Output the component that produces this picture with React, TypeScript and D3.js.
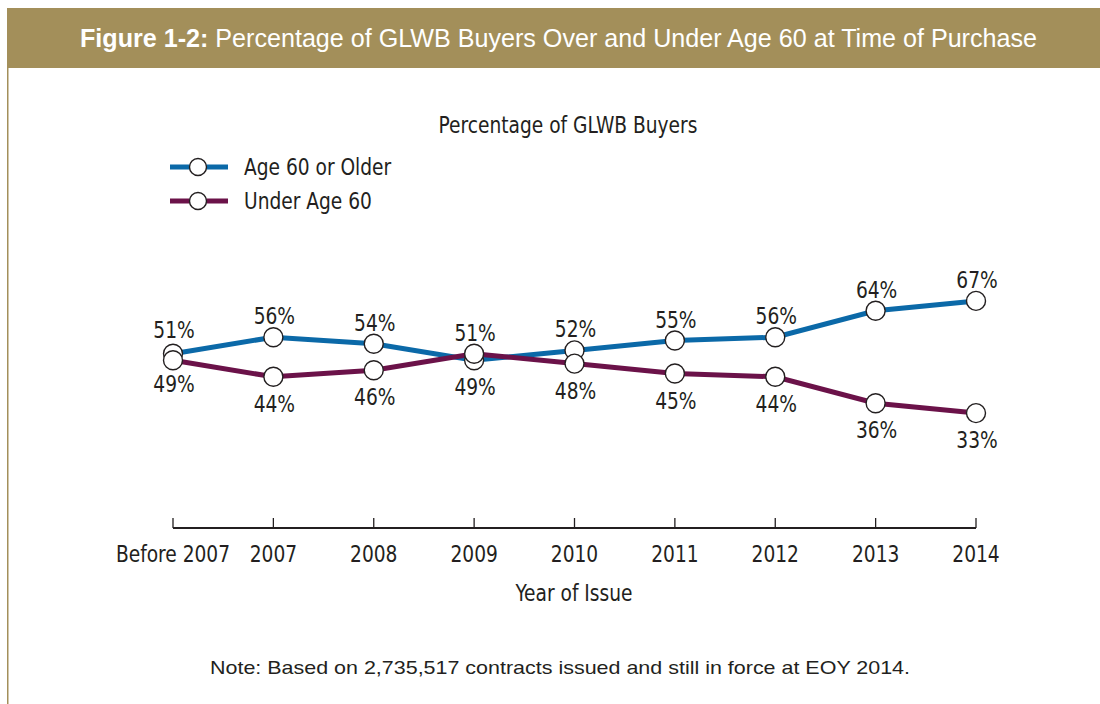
import React, { useEffect, useRef } from "react";
import * as d3 from "d3";

const categories = ["Before 2007", "2007", "2008", "2009", "2010", "2011", "2012", "2013", "2014"];
const olderValues = [51, 56, 54, 49, 52, 55, 56, 64, 67];
const youngerValues = [49, 44, 46, 51, 48, 45, 44, 36, 33];
const seriesNames = ["Age 60 or Older", "Under Age 60"];
const seriesColors = ["#0b69a8", "#6b1249"];

const NARROW = "'DejaVu Sans Condensed', 'Liberation Sans', sans-serif";
const WIDE = "'Liberation Sans', 'DejaVu Sans', sans-serif";
const INK = "#231f20";

// condensed text: squeeze horizontally to imitate the narrow face
function narrowText(
  parent: d3.Selection<any, unknown, null, undefined>,
  x: number,
  y: number,
  str: string,
  anchor = "middle"
) {
  return parent.append("text")
    .attr("transform", `translate(${x},${y}) scale(0.9,1)`)
    .attr("text-anchor", anchor)
    .attr("fill", INK)
    .style("font-family", NARROW)
    .style("font-size", "23px")
    .text(str);
}

const App: React.FC = () => {
  const svgRef = useRef<SVGSVGElement | null>(null);

  useEffect(() => {
    if (!svgRef.current) return;
    const svg = d3.select(svgRef.current);
    svg.selectAll("*").remove();

    // header band
    svg.append("rect")
      .attr("x", 7).attr("y", 8).attr("width", 1093).attr("height", 60)
      .attr("fill", "#a38f5a");
    svg.append("line")
      .attr("x1", 7.75).attr("x2", 7.75).attr("y1", 68).attr("y2", 704)
      .attr("stroke", "#a38f5a").attr("stroke-width", 1.5);

    const head = svg.append("text")
      .attr("x", 80).attr("y", 47)
      .attr("fill", "#fff")
      .style("font-family", WIDE)
      .style("font-size", "25px")
      .attr("textLength", 957)
      .attr("lengthAdjust", "spacingAndGlyphs");
    head.append("tspan").style("font-weight", "bold").text("Figure 1-2:");
    head.append("tspan").text(" Percentage of GLWB Buyers Over and Under Age 60 at Time of Purchase");

    narrowText(svg as any, 568, 133, "Percentage of GLWB Buyers");

    const x = d3.scalePoint<string>().domain(categories).range([173, 976]);
    const y = d3.scaleLinear().domain([0, 100]).range([522, 192]);

    // axis
    const axisY = 528;
    const axis = svg.append("g").attr("transform", `translate(0,${axisY})`);
    axis.append("line")
      .attr("x1", x(categories[0])!).attr("x2", x(categories[categories.length - 1])!)
      .attr("y1", 0).attr("y2", 0)
      .attr("stroke", INK).attr("stroke-width", 2);
    axis.selectAll(".tick")
      .data(categories)
      .enter()
      .append("line")
      .attr("x1", (d) => x(d)!).attr("x2", (d) => x(d)!)
      .attr("y1", -10).attr("y2", 0)
      .attr("stroke", INK).attr("stroke-width", 1.3);
    categories.forEach((c) => narrowText(axis as any, x(c)!, 34, c));
    narrowText(svg as any, 574, 601, "Year of Issue");

    const allSeries = [olderValues, youngerValues];
    const line = d3.line<number>()
      .x((_, i) => x(categories[i])!)
      .y((d) => y(d));

    allSeries.forEach((vals, s) => {
      svg.append("path")
        .attr("d", line(vals)!)
        .attr("fill", "none")
        .attr("stroke", seriesColors[s])
        .attr("stroke-width", 5);
    });

    allSeries.forEach((vals, s) => {
      const other = allSeries[1 - s];
      vals.forEach((v, i) => {
        const cx = x(categories[i])!;
        const cy = y(v);
        const above = v >= other[i];
        svg.append("circle")
          .attr("cx", cx).attr("cy", cy).attr("r", 9.5)
          .attr("fill", "#fff")
          .attr("stroke", INK)
          .attr("stroke-width", 1.4);
        narrowText(
          svg as any,
          cx + 1,
          above ? cy - (i === 0 ? 16 : 13) : cy + (i === 0 ? 32 : 35),
          `${v}%`
        );
      });
    });

    // legend
    seriesNames.forEach((name, s) => {
      const ly = 167 + s * 34;
      svg.append("line")
        .attr("x1", 170).attr("x2", 228).attr("y1", ly).attr("y2", ly)
        .attr("stroke", seriesColors[s]).attr("stroke-width", 5);
      svg.append("circle")
        .attr("cx", 198).attr("cy", ly).attr("r", 8.5)
        .attr("fill", "#fff").attr("stroke", INK).attr("stroke-width", 1.4);
      narrowText(svg as any, 244, ly + 8, name, "start");
    });

    svg.append("text")
      .attr("x", 560).attr("y", 674)
      .attr("text-anchor", "middle")
      .attr("fill", INK)
      .style("font-family", WIDE)
      .style("font-size", "19px")
      .attr("textLength", 700)
      .attr("lengthAdjust", "spacingAndGlyphs")
      .text("Note: Based on 2,735,517 contracts issued and still in force at EOY 2014.");
  }, []);

  return (
    <div style={{ position: "absolute", left: 0, top: 0 }}>
      <svg ref={svgRef} width={1100} height={704} style={{ display: "block", background: "#fff" }}></svg>
    </div>
  );
};

export default App;
